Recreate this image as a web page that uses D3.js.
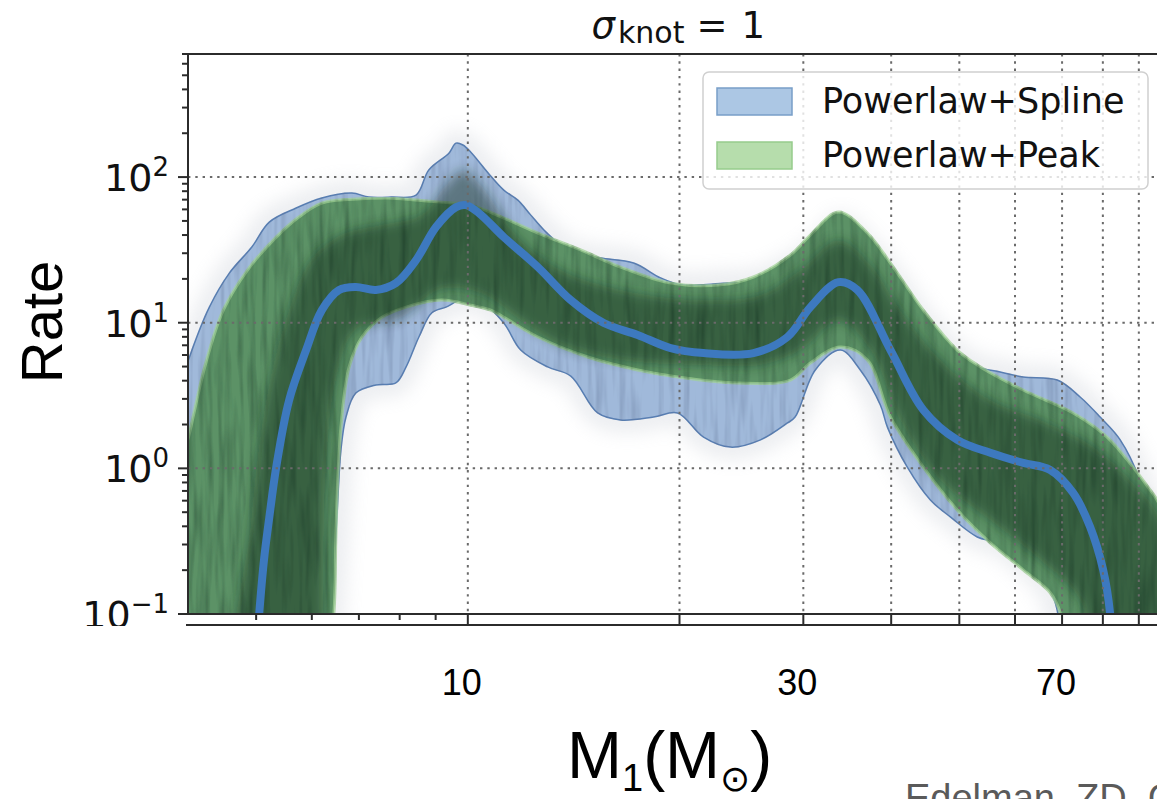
<!DOCTYPE html>
<html>
<head>
<meta charset="utf-8">
<script src="https://cdn.jsdelivr.net/npm/d3@7"></script>
<style>
body { margin: 0; background: #fff; }
svg { display: block; }
</style>
</head>
<body>
<script>
// values, as [M1, rate] pairs
// Powerlaw+Spline: median and 90% band
var splineMedian = [[4.95,0.026],[5.05,0.10],[5.13,0.235],[5.22,0.46],[5.34,1.02],[5.57,2.94],[5.89,6.5],[6.2,12.2],[6.56,16.8],[6.93,17.6],[7.4,16.8],[7.9,18.7],[8.44,26.9],[9.01,45.4],[9.62,62.2],[9.94,64.2],[10.37,56.6],[11.25,38.7],[12.58,24.1],[14.01,14.3],[15.61,9.95],[17.44,8.24],[19.43,6.7],[21.64,6.19],[25.48,6.19],[28.48,7.98],[30.7,12.8],[33.65,19.0],[35.81,16.8],[39.9,6.5],[44.44,2.52],[49.66,1.57],[55.34,1.28],[61.63,1.09],[67.33,0.975],[72.59,0.678],[76.74,0.396],[80.08,0.201],[81.93,0.10],[82.99,0.026]]
var splineUpper = [[3.85,0.03],[3.91,3.74],[4.02,5.82],[4.29,12.8],[4.58,21.9],[4.93,33.1],[5.22,49.1],[5.7,61.3],[6.2,71.8],[6.84,77.7],[7.23,72.9],[7.78,72.9],[8.44,75.2],[8.8,112],[9.4,146],[9.62,171],[9.84,166],[10.1,148],[10.68,107],[11.25,81.4],[11.78,69.5],[12.29,54.8],[12.83,43.3],[13.56,34.1],[14.14,30.1],[15.45,27.8],[17.21,25.7],[18.8,20.3],[20.07,18.2],[21.43,18.2],[23.1,18.7],[26.08,19.6],[29.72,26.9],[31.72,34.1],[33.88,46.8],[36.15,36.9],[39.9,21.3],[44.44,10.4],[49.66,6.0],[53.02,4.97],[57.15,4.59],[61.63,4.24],[68.89,4.04],[74.26,3.09],[79.29,2.25],[84.67,1.57],[90.36,0.83],[95.52,0.32],[99.68,0.125],[101.3,0.03]]
var splineLower = [[6.18,0.026],[6.39,0.102],[6.51,0.44],[6.6,1.34],[6.71,2.25],[6.93,3.29],[7.4,3.74],[7.9,3.86],[8.17,4.97],[8.52,7.98],[8.89,11.7],[9.31,12.8],[9.77,14.3],[10.43,13.9],[11.25,9.95],[11.89,6.49],[12.99,4.97],[14.01,4.3],[15.3,2.4],[16.49,2.15],[18.37,2.25],[19.87,2.4],[21.64,1.64],[23.63,1.4],[26.08,1.57],[28.48,2.05],[29.2,2.25],[31.2,4.74],[33.88,6.49],[36.15,4.74],[38.61,2.72],[39.51,1.92],[42.17,1.02],[45.48,0.607],[48.55,0.464],[53.02,0.338],[56.58,0.308],[61.02,0.235],[67.33,0.146],[70.02,0.066],[71.41,0.03]]

// Powerlaw+Peak: 90% band
var peakUpper = [[3.85,0.03],[3.91,0.975],[4.02,1.75],[4.24,5.29],[4.49,12.2],[4.86,23.0],[5.34,38.7],[5.75,53.2],[6.2,66.3],[6.93,70.6],[7.72,71.8],[8.44,69.5],[9.15,67.3],[10.1,64.2],[11.25,52.3],[12.58,41.3],[14.47,31.6],[16.49,24.1],[19.43,18.7],[22.88,18.2],[25.48,20.6],[28.76,29.2],[30.7,40.0],[33.65,57.5],[37.0,41.3],[39.9,25.7],[44.44,12.2],[49.66,6.49],[53.02,5.13],[61.63,3.45],[72.59,2.4],[81.13,1.64],[88.31,1.02],[93.38,0.711],[95.52,0.607],[101.3,0.323],[103,0.03]]
var peakLower = [[6.22,0.026],[6.45,0.102],[6.49,0.323],[6.54,0.975],[6.62,2.25],[6.78,4.97],[7.07,7.98],[7.55,10.9],[8.17,12.8],[9.18,14.3],[10.1,13.2],[10.78,12.2],[11.25,10.9],[12.58,7.98],[14.81,5.82],[17.44,4.74],[19.87,4.24],[24.18,3.86],[28.76,4.04],[30.7,5.29],[33.88,6.81],[37.0,5.55],[39.9,2.25],[44.44,1.02],[49.66,0.518],[55.34,0.308],[61.63,0.201],[67.33,0.14],[69.56,0.102],[71.41,0.03]]

// where the posterior draws pile up (the dark core)
var coreUpper = [[4.76,0.03],[4.92,0.44],[5.17,2.95],[5.51,10.4],[5.98,26.9],[6.6,40],[7.52,46.8],[8.58,54.8],[9.31,88],[9.84,112],[10.43,88],[11.89,36.9],[13.56,23],[16.49,16.8],[21.43,14.3],[26.08,15.5],[29.72,23],[33.65,36.9],[37.4,24.9],[41.2,12.2],[47,5.55],[55.34,2.95],[65.2,2.15],[76.74,1.45],[87.5,0.83],[96.5,0.44],[101.3,0.03]]
var coreLower = [[6.18,0.03],[6.22,0.125],[6.28,0.98],[6.49,4.04],[6.93,8.91],[8.03,10.8],[9.15,17],[10.43,16],[11.89,10.4],[13.56,7.03],[16.49,5.55],[21.43,5.13],[26.08,5.13],[29.72,6.49],[33.65,10.4],[37.4,6.49],[41.2,2.15],[47,0.83],[55.34,0.44],[65.2,0.235],[74.26,0.125],[79.29,0.03]]

var xTickLabels = [10, 30, 70]
var yTickExps = [-1, 0, 1, 2]
var legendLabels = ['Powerlaw+Spline', 'Powerlaw+Peak']

var width = 1157, height = 799
var plot = { left: 188, right: 1171, top: 54, bottom: 614 }

var x = d3.scaleLog().domain([4, 100]).range([plot.left, plot.right])
var y = d3.scaleLog().domain([0.1, 700]).range([plot.bottom, plot.top])

var svg = d3.select('body').append('svg')
    .attr('width', width)
    .attr('height', height)
    .style('background', '#fff')

var defs = svg.append('defs')
defs.append('clipPath').attr('id', 'clip')
    .append('rect')
    .attr('x', plot.left).attr('y', plot.top)
    .attr('width', plot.right - plot.left).attr('height', plot.bottom - plot.top)
defs.append('filter').attr('id', 'blur')
    .attr('x', '-20%').attr('y', '-20%').attr('width', '140%').attr('height', '140%')
    .append('feGaussianBlur').attr('stdDeviation', 6)
defs.append('filter').attr('id', 'haze')
    .attr('x', '-20%').attr('y', '-20%').attr('width', '140%').attr('height', '140%')
    .append('feGaussianBlur').attr('stdDeviation', 9)

// streaky texture of the many overplotted draws
function streakFilter(id, freq, matrix) {
    var f = defs.append('filter').attr('id', id)
        .attr('x', 0).attr('y', 0).attr('width', '100%').attr('height', '100%')
    f.append('feTurbulence')
        .attr('type', 'fractalNoise')
        .attr('baseFrequency', freq)
        .attr('numOctaves', 2)
        .attr('seed', 4)
        .attr('result', 'noise')
    f.append('feColorMatrix')
        .attr('in', 'noise')
        .attr('type', 'matrix')
        .attr('values', matrix)
        .attr('result', 'dark')
    f.append('feComposite')
        .attr('in', 'dark').attr('in2', 'SourceGraphic').attr('operator', 'in')
        .attr('result', 'darkIn')
    var m = f.append('feMerge')
    m.append('feMergeNode').attr('in', 'SourceGraphic')
    m.append('feMergeNode').attr('in', 'darkIn')
}
streakFilter('streaksGreen', '0.16 0.014', '0 0 0 0 0.04  0 0 0 0 0.12  0 0 0 0 0.06  0 0 0 -1.8 1.05')
streakFilter('streaksBlue', '0.16 0.014', '0 0 0 0 0.12  0 0 0 0 0.18  0 0 0 0 0.32  0 0 0 -1.1 0.62')

// closed outline of a band: upper edge then lower edge backwards
var outline = d3.line()
    .x(d => x(d[0]))
    .y(d => y(d[1]))
    .curve(d3.curveCatmullRomClosed.alpha(0.5))
var band = (up, lo) => outline(up.concat(lo.slice().reverse()))

var valueline = d3.line()
    .x(d => x(d[0]))
    .y(d => y(d[1]))
    .curve(d3.curveCatmullRom.alpha(0.5))

var g = svg.append('g').attr('clip-path', 'url(#clip)')

// faint cloud of draws around the bands
g.append('path')
    .attr('d', band(splineUpper, splineLower))
    .attr('fill', 'none')
    .attr('stroke', '#c9ced6')
    .attr('stroke-width', 26)
    .attr('opacity', 0.35)
    .attr('filter', 'url(#haze)')

g.append('path')
    .attr('d', band(splineUpper, splineLower))
    .attr('fill', 'rgb(160,185,218)')
    .attr('stroke', 'rgb(88,126,178)')
    .attr('stroke-width', 1.5)
    .attr('filter', 'url(#streaksBlue)')

g.append('path')
    .attr('d', band(peakUpper, peakLower))
    .attr('fill', 'rgb(92,146,102)')
    .attr('stroke', 'rgb(160,210,148)')
    .attr('stroke-opacity', 0.7)
    .attr('stroke-width', 3)
    .attr('filter', 'url(#streaksGreen)')

g.append('path')
    .attr('d', band(coreUpper, coreLower))
    .attr('fill', 'rgb(12,38,22)')
    .attr('opacity', 0.45)
    .attr('filter', 'url(#blur)')

// dotted grid
var grid = svg.append('g')
    .attr('stroke', '#6a6a6a')
    .attr('stroke-width', 2)
    .attr('stroke-dasharray', '2.4,4.9')
grid.selectAll('.gx')
    .data(x.ticks().filter(t => t >= 10 && t < 100))
    .enter().append('line')
    .attr('x1', d => x(d)).attr('x2', d => x(d))
    .attr('y1', plot.top).attr('y2', plot.bottom)
grid.selectAll('.gy')
    .data(yTickExps.slice(1))
    .enter().append('line')
    .attr('x1', plot.left).attr('x2', plot.right)
    .attr('y1', d => y(Math.pow(10, d))).attr('y2', d => y(Math.pow(10, d)))

g.append('path')
    .data([splineMedian])
    .attr('d', valueline)
    .attr('fill', 'none')
    .attr('stroke', '#3d79bf')
    .attr('stroke-width', 8)

// spines
var axis = svg.append('g').attr('stroke', '#2b2b2b').attr('stroke-width', 2)
axis.append('line').attr('x1', plot.left).attr('x2', plot.left).attr('y1', plot.top).attr('y2', plot.bottom + 1)
axis.append('line').attr('x1', plot.left).attr('x2', plot.right).attr('y1', plot.top).attr('y2', plot.top)
axis.append('line').attr('x1', plot.left).attr('x2', plot.right).attr('y1', plot.bottom).attr('y2', plot.bottom)

// y ticks
var isMajor = t => Math.abs(Math.log10(t) - Math.round(Math.log10(t))) < 1e-6
axis.selectAll('.ty')
    .data(y.ticks())
    .enter().append('line')
    .attr('x1', d => plot.left - (isMajor(d) ? 10 : 6)).attr('x2', plot.left)
    .attr('y1', d => y(d)).attr('y2', d => y(d))

// x ticks
axis.selectAll('.tx')
    .data(x.ticks().filter(t => t > 4 && t < 100))
    .enter().append('line')
    .attr('x1', d => x(d)).attr('x2', d => x(d))
    .attr('y1', plot.bottom)
    .attr('y2', d => plot.bottom + (d >= 10 ? 11 : 6))

// y tick labels
var ylab = svg.append('g')
    .attr('font-family', 'DejaVu Sans')
    .attr('font-size', 38)
    .attr('fill', '#111')
    .attr('text-anchor', 'end')
yTickExps.forEach(e => {
    var t = ylab.append('text')
        .attr('x', plot.left - 19)
        .attr('y', y(Math.pow(10, e)) + 14)
    t.append('tspan').text('10')
    t.append('tspan')
        .attr('font-size', 26)
        .attr('dy', -15)
        .text(e < 0 ? '\u2212' + (-e) : String(e))
})

// slide overlay below the figure
svg.append('rect')
    .attr('x', 0).attr('y', plot.bottom + 12)
    .attr('width', width).attr('height', height - plot.bottom - 12)
    .attr('fill', '#fff')
svg.append('line')
    .attr('x1', plot.left - 2).attr('x2', width)
    .attr('y1', plot.bottom + 11).attr('y2', plot.bottom + 11)
    .attr('stroke', '#2b2b2b').attr('stroke-width', 2)

// title
var cx = (plot.left + plot.right) / 2
var title = svg.append('text')
    .attr('x', cx - 88)
    .attr('y', 38)
    .attr('font-family', 'DejaVu Sans')
    .attr('font-size', 37)
    .attr('fill', '#111')
title.append('tspan').attr('font-style', 'italic').text('\u03c3')
title.append('tspan').attr('font-size', 30).attr('dy', 5).attr('dx', 3).text('knot')
title.append('tspan').attr('dy', -5).attr('dx', 12).text('=')
title.append('tspan').attr('dx', 14).text('1')

// legend
var lg = svg.append('g').attr('transform', 'translate(703,72)')
lg.append('rect')
    .attr('width', 445).attr('height', 117).attr('rx', 6)
    .attr('fill', '#fff').attr('fill-opacity', 0.8)
    .attr('stroke', '#d0d0d0').attr('stroke-width', 1.5)
var legendFill = ['rgb(172,199,228)', 'rgb(182,221,172)']
var legendEdge = ['rgb(120,158,200)', 'rgb(150,204,140)']
legendLabels.forEach((name, i) => {
    lg.append('rect')
        .attr('x', 14).attr('y', 16 + i * 54)
        .attr('width', 75).attr('height', 27)
        .attr('fill', legendFill[i])
        .attr('stroke', legendEdge[i]).attr('stroke-width', 1.5)
    lg.append('text')
        .attr('x', 119).attr('y', 41 + i * 54)
        .attr('font-family', 'DejaVu Sans')
        .attr('font-size', 35)
        .attr('fill', '#111')
        .text(name)
})

// slide text (different font)
svg.append('g')
    .attr('font-family', 'Liberation Sans, Arial, sans-serif')
    .attr('font-size', 36)
    .attr('fill', '#000')
    .attr('text-anchor', 'middle')
    .selectAll('text')
    .data(xTickLabels)
    .enter().append('text')
    .attr('x', d => x(d) - 6)
    .attr('y', 695)
    .text(d => d)

svg.append('text')
    .attr('transform', 'translate(62,322) rotate(-90)')
    .attr('font-family', 'Liberation Sans, Arial, sans-serif')
    .attr('font-size', 58)
    .attr('text-anchor', 'middle')
    .attr('fill', '#000')
    .text('Rate')

var xl = svg.append('text')
    .attr('x', 567)
    .attr('y', 778)
    .attr('font-family', 'Liberation Sans, Arial, sans-serif')
    .attr('font-size', 66)
    .attr('fill', '#000')
xl.append('tspan').text('M')
xl.append('tspan').attr('font-size', 38).attr('dy', 13).text('1')
xl.append('tspan').attr('dy', -13).text('(M')
xl.append('tspan').attr('font-size', 36).attr('dy', 13).attr('font-family', 'DejaVu Sans').text('\u2299')
xl.append('tspan').attr('dy', -13).text(')')

svg.append('text')
    .attr('x', 905)
    .attr('y', 811)
    .attr('font-family', 'Liberation Sans, Arial, sans-serif')
    .attr('font-size', 38)
    .attr('fill', '#5a5a5a')
    .text('Edelman, ZD, C')
</script>
</body>
</html>
